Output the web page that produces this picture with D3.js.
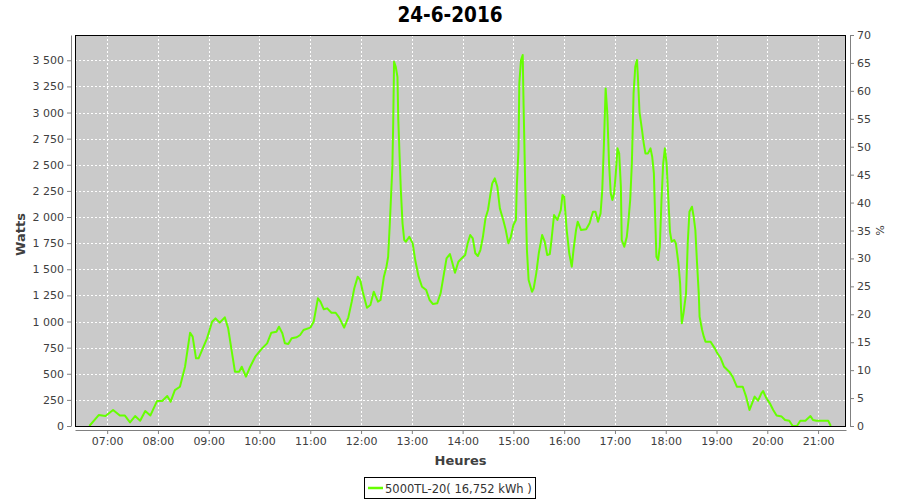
<!DOCTYPE html>
<html>
<head>
<meta charset="utf-8">
<script src="https://cdn.jsdelivr.net/npm/d3@7"></script>
<style>
  body { margin: 0; background: #fff; }
  svg { display: block; }
</style>
</head>
<body>
<svg id="chart" width="900" height="500"></svg>
<script>
const title = "24-6-2016";
const seriesName = "5000TL-20( 16,752 kWh )";
const xLabel = "Heures";
const yLabel = "Watts";
const y2Label = "%";

const times = ["06:39","06:50","06:58","07:07","07:15","07:21","07:27","07:33","07:39","07:45","07:51","07:59","08:05","08:11","08:15","08:20","08:26","08:32","08:38","08:41","08:45","08:48","08:58","09:04","09:08","09:13","09:19","09:23","09:27","09:31","09:36","09:39","09:44","09:49","09:55","10:03","10:09","10:14","10:20","10:23","10:27","10:30","10:34","10:38","10:44","10:48","10:52","11:00","11:04","11:09","11:12","11:16","11:20","11:25","11:30","11:34","11:40","11:45","11:49","11:52","11:56","11:59","12:02","12:07","12:11","12:15","12:20","12:23","12:27","12:30","12:32","12:34","12:37","12:38","12:39","12:41","12:43","12:44","12:47","12:49","12:51","12:53","12:57","13:01","13:04","13:08","13:12","13:17","13:21","13:25","13:30","13:34","13:38","13:41","13:45","13:48","13:51","13:55","13:59","14:03","14:06","14:09","14:12","14:15","14:18","14:21","14:24","14:27","14:30","14:33","14:35","14:38","14:41","14:44","14:48","14:51","14:54","14:57","15:00","15:03","15:04","15:06","15:07","15:09","15:11","15:12","15:14","15:16","15:18","15:22","15:24","15:27","15:30","15:34","15:37","15:40","15:43","15:45","15:48","15:52","15:56","15:58","16:00","16:03","16:06","16:09","16:11","16:14","16:16","16:20","16:26","16:30","16:34","16:37","16:40","16:43","16:45","16:47","16:49","16:51","16:53","16:55","16:57","16:59","17:01","17:03","17:05","17:07","17:08","17:11","17:14","17:16","17:18","17:20","17:22","17:24","17:26","17:27","17:29","17:32","17:34","17:36","17:39","17:42","17:44","17:46","17:47","17:49","17:51","17:53","17:55","17:57","17:59","18:01","18:03","18:05","18:07","18:10","18:12","18:15","18:17","18:18","18:19","18:21","18:24","18:26","18:28","18:31","18:33","18:35","18:37","18:39","18:40","18:43","18:45","18:47","18:53","18:58","19:01","19:05","19:09","19:15","19:19","19:24","19:31","19:35","19:39","19:42","19:45","19:49","19:53","19:55","19:59","20:03","20:07","20:11","20:17","20:21","20:26","20:30","20:35","20:39","20:45","20:51","20:54","20:58","21:04","21:12","21:15"];

const watts = [0,105,95,153,100,100,35,95,50,143,100,240,240,287,233,344,376,567,893,855,648,648,839,998,1030,989,1040,935,727,520,520,567,472,567,663,743,791,893,902,950,887,791,785,839,849,871,919,941,998,1222,1190,1117,1126,1084,1084,1040,941,1040,1190,1318,1429,1397,1285,1132,1158,1285,1190,1206,1429,1524,1620,1940,2481,2897,3486,3438,3342,2928,2258,1940,1780,1764,1811,1748,1588,1429,1333,1301,1206,1167,1174,1270,1461,1605,1646,1557,1467,1572,1605,1636,1748,1828,1796,1653,1627,1684,1811,1988,2067,2227,2322,2370,2290,2083,1971,1875,1748,1811,1923,1971,2290,2641,3279,3502,3550,3088,2290,1684,1397,1285,1318,1461,1653,1828,1764,1636,1646,1780,2019,1971,2067,2210,2194,1875,1653,1524,1684,1875,1955,1875,1882,1940,2051,2051,1955,2035,2258,2705,3231,2992,2514,2227,2163,2227,2418,2657,2609,2290,1780,1716,1811,1971,2163,2514,3183,3438,3502,3359,3007,2832,2705,2609,2609,2657,2577,2418,2131,1620,1588,1716,2163,2514,2657,2514,2194,1859,1764,1780,1748,1557,1365,1142,983,1078,1270,1748,2051,2099,2003,1875,1557,1270,1046,919,855,807,807,743,696,648,567,520,472,376,376,281,153,217,281,242,313,335,265,217,153,100,90,57,50,0,0,50,50,95,57,50,50,50,0];

const xTicks = ["07:00","08:00","09:00","10:00","11:00","12:00","13:00","14:00","15:00","16:00","17:00","18:00","19:00","20:00","21:00"];
const yTicks = [0,250,500,750,1000,1250,1500,1750,2000,2250,2500,2750,3000,3250,3500];
const y2Ticks = [0,5,10,15,20,25,30,35,40,45,50,55,60,65,70];
const xDomain = ["06:22","21:33"];
const yMax = 3742;
const y2Max = 70;

const svg = d3.select("#chart");
const L = 75, R = 846, T = 35, B = 426;
const parse = d3.timeParse("%H:%M");
const fmtTime = d3.timeFormat("%H:%M");
const fr = d3.formatLocale({decimal: ",", thousands: " ", grouping: [3], currency: ["", ""]});
const fmtW = fr.format(",d");

const x = d3.scaleTime().domain(xDomain.map(parse)).range([L, R]);
const y = d3.scaleLinear().domain([0, yMax]).range([B, T]);
const y2 = d3.scaleLinear().domain([0, y2Max]).range([B, T]);

const data = times.map((t, i) => ({t: parse(t), v: watts[i]}));

const tickFont = "'DejaVu Sans', sans-serif";

// title
svg.append("text").attr("x", 450).attr("y", 22).attr("text-anchor", "middle")
  .attr("font-family", "'DejaVu Sans Condensed', 'DejaVu Sans', sans-serif")
  .attr("font-stretch", "condensed")
  .attr("font-weight", "bold").attr("font-size", 20.5).attr("fill", "#000").text(title);

// plot background
svg.append("rect").attr("x", L).attr("y", T).attr("width", R - L).attr("height", B - T).attr("fill", "#cacaca");

// gridlines
const grid = svg.append("g").attr("stroke", "#fff").attr("stroke-width", 1).attr("stroke-dasharray", "2,2")
  .attr("shape-rendering", "crispEdges");
xTicks.forEach(s => {
  const px = Math.round(x(parse(s))) + 0.5;
  grid.append("line").attr("x1", px).attr("x2", px).attr("y1", T).attr("y2", B);
});
yTicks.forEach(v => {
  if (v === 0) return;
  const py = Math.round(y(v)) + 0.5;
  grid.append("line").attr("x1", L).attr("x2", R).attr("y1", py).attr("y2", py);
});

// line
const line = d3.line().x(d => x(d.t)).y(d => y(d.v));
svg.append("clipPath").attr("id", "clip").append("rect")
  .attr("x", L).attr("y", T).attr("width", R - L).attr("height", B - T);
svg.append("path").datum(data).attr("d", line).attr("fill", "none")
  .attr("stroke", "#66ff00").attr("stroke-width", 2).attr("stroke-linejoin", "round")
  .attr("clip-path", "url(#clip)");

// plot outline
svg.append("rect").attr("x", L + 0.5).attr("y", T + 0.5).attr("width", R - L - 1).attr("height", B - T)
  .attr("fill", "none").attr("stroke", "#000").attr("stroke-width", 1).attr("shape-rendering", "crispEdges");

// axes
function styleAxis(g) {
  g.selectAll("path").attr("stroke", "#808080");
  g.selectAll("line").attr("stroke", "#808080");
  g.selectAll("text").attr("fill", "#404040").attr("font-family", tickFont).attr("font-size", 11);
}
const xAxis = d3.axisBottom(x).tickValues(xTicks.map(parse)).tickFormat(fmtTime).tickSizeInner(4).tickSizeOuter(0).tickPadding(3);
svg.append("g").attr("transform", `translate(0,${B + 4})`).call(xAxis).call(styleAxis);

const yAxis = d3.axisLeft(y).tickValues(yTicks).tickFormat(fmtW).tickSizeInner(4).tickSizeOuter(0).tickPadding(3);
svg.append("g").attr("transform", `translate(${L - 4},0)`).call(yAxis).call(styleAxis);

const y2Axis = d3.axisRight(y2).tickValues(y2Ticks).tickFormat(d3.format("d")).tickSizeInner(4).tickSizeOuter(0).tickPadding(3);
svg.append("g").attr("transform", `translate(${R + 4},0)`).call(y2Axis).call(styleAxis);

// axis labels
svg.append("text").attr("x", (L + R) / 2).attr("y", 465).attr("text-anchor", "middle")
  .attr("font-family", tickFont).attr("font-weight", "bold").attr("font-size", 13).attr("fill", "#404040").text(xLabel);
svg.append("text").attr("transform", `translate(25,${(T + B) / 2 + 4}) rotate(-90)`).attr("text-anchor", "middle")
  .attr("font-family", tickFont).attr("font-weight", "bold").attr("font-size", 13).attr("fill", "#404040").text(yLabel);
svg.append("text").attr("transform", `translate(876,${(T + B) / 2}) rotate(90)`).attr("text-anchor", "middle")
  .attr("font-family", tickFont).attr("font-size", 11).attr("fill", "#404040").text(y2Label);

// legend
const lg = svg.append("g");
lg.append("rect").attr("x", 364.5).attr("y", 477.5).attr("width", 171).attr("height", 21)
  .attr("fill", "#fff").attr("stroke", "#000").attr("stroke-width", 1);
lg.append("line").attr("x1", 368).attr("x2", 383).attr("y1", 488).attr("y2", 488)
  .attr("stroke", "#66ff00").attr("stroke-width", 2.5);
lg.append("text").attr("x", 385).attr("y", 492.5).attr("font-family", tickFont).attr("font-size", 11.5)
  .attr("fill", "#333").text(seriesName);
</script>
</body>
</html>
